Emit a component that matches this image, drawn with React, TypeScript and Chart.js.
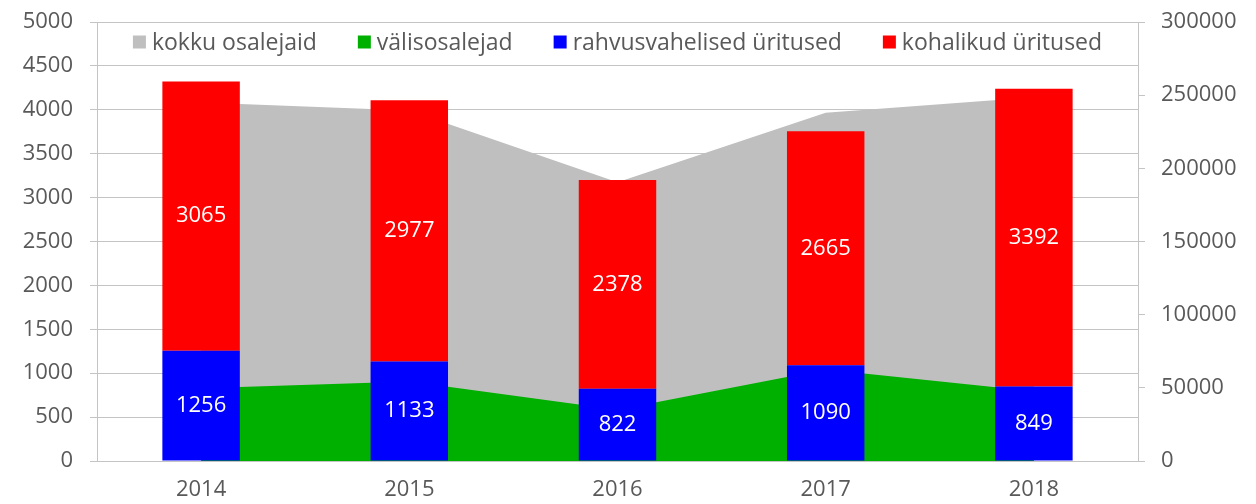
import React, { useEffect, useRef } from "react";
import { Chart, registerables } from "chart.js";

Chart.register(...registerables);

const years = ["2014", "2015", "2016", "2017", "2018"];
const rahvusvahelised = [1256, 1133, 822, 1090, 849];
const kohalikud = [3065, 2977, 2378, 2665, 3392];
const kokkuOsalejaid = [245000, 239500, 190500, 238000, 248500];
const valisosalejad = [49800, 54400, 35000, 62500, 47600];

const labels = {
  kokku: "kokku osalejaid",
  valis: "välisosalejad",
  rahvus: "rahvusvahelised üritused",
  kohalik: "kohalikud üritused",
};

const FONT = '"Open Sans", sans-serif';
const TEXT = "#595959";
const GRID = "#c4c4c4";

const legendPlugin = {
  id: "insideLegend",
  afterDraw(chart: any) {
    const ctx = chart.ctx;
    const { left, right } = chart.chartArea;
    ctx.save();
    ctx.font = `23px ${FONT}`;
    ctx.textBaseline = "middle";
    const items = chart.data.datasets.map((d: any) => ({
      label: d.label,
      color: d.backgroundColor,
    }));
    const box = 13;
    const gapBT = 6;
    const gap = 41;
    const widths = items.map((it: any) => box + gapBT + ctx.measureText(it.label).width);
    const total = widths.reduce((a: number, b: number) => a + b, 0) + gap * (items.length - 1);
    let x = (left + right) / 2 - total / 2;
    const y = 42;
    items.forEach((it: any, i: number) => {
      ctx.fillStyle = it.color;
      ctx.fillRect(x, y - box / 2, box, box);
      ctx.fillStyle = TEXT;
      ctx.textAlign = "left";
      ctx.fillText(it.label, x + box + gapBT, y + 1);
      x += widths[i] + gap;
    });
    ctx.restore();
  },
};

const valueLabelPlugin = {
  id: "valueLabels",
  afterDatasetsDraw(chart: any) {
    const ctx = chart.ctx;
    ctx.save();
    ctx.font = `22px ${FONT}`;
    ctx.fillStyle = "#ffffff";
    ctx.textAlign = "center";
    ctx.textBaseline = "middle";
    chart.data.datasets.forEach((ds: any, di: number) => {
      if (ds.type !== "bar") return;
      const meta = chart.getDatasetMeta(di);
      meta.data.forEach((el: any, i: number) => {
        const p = el.getCenterPoint();
        ctx.fillText(String(ds.data[i]), p.x, p.y);
      });
    });
    ctx.restore();
  },
};

const plain = (v: any) => String(v);

export default function App() {
  const ref = useRef<HTMLCanvasElement>(null);

  useEffect(() => {
    if (!ref.current) return;
    const chart = new Chart(ref.current, {
      type: "bar",
      data: {
        labels: years,
        datasets: [
          {
            type: "line",
            label: labels.kokku,
            data: kokkuOsalejaid,
            yAxisID: "y1",
            backgroundColor: "#bfbfbf",
            borderColor: "#bfbfbf",
            borderWidth: 0,
            pointRadius: 0,
            fill: "origin",
            tension: 0,
            order: 3,
          },
          {
            type: "line",
            label: labels.valis,
            data: valisosalejad,
            yAxisID: "y1",
            backgroundColor: "#00b000",
            borderColor: "#00b000",
            borderWidth: 0,
            pointRadius: 0,
            fill: "origin",
            tension: 0,
            order: 2,
          },
          {
            type: "bar",
            label: labels.rahvus,
            data: rahvusvahelised,
            yAxisID: "y",
            backgroundColor: "#0000ff",
            stack: "s",
            order: 1,
          },
          {
            type: "bar",
            label: labels.kohalik,
            data: kohalikud,
            yAxisID: "y",
            backgroundColor: "#ff0000",
            stack: "s",
            order: 1,
          },
        ] as any,
      },
      options: {
        responsive: false,
        animation: false,
        devicePixelRatio: 1,
        layout: { padding: { top: 22, left: 0, right: 0, bottom: 0 } },
        datasets: {
          bar: { categoryPercentage: 0.372, barPercentage: 1 },
        } as any,
        plugins: {
          legend: { display: false },
          tooltip: { enabled: false },
        },
        scales: {
          x: {
            stacked: true,
            offset: true,
            grid: { display: false, drawTicks: false },
            border: { display: true, color: GRID },
            ticks: { color: TEXT, font: { family: FONT, size: 22 }, padding: 16 },
            afterFit: (s: any) => {
              s.height = 43;
              s.paddingLeft = 0;
              s.paddingRight = 0;
            },
          },
          y: {
            position: "left",
            stacked: true,
            min: 0,
            max: 5000,
            ticks: {
              stepSize: 500,
              color: TEXT,
              font: { family: FONT, size: 22 },
              padding: 17,
              callback: plain,
            },
            grid: { color: GRID, tickLength: 7, tickColor: GRID },
            border: { color: GRID },
            afterFit: (s: any) => {
              s.width = 97;
              s.paddingTop = 0;
              s.paddingBottom = 0;
            },
          },
          y1: {
            position: "right",
            min: 0,
            max: 300000,
            ticks: {
              stepSize: 50000,
              color: TEXT,
              font: { family: FONT, size: 22 },
              padding: 16,
              callback: plain,
            },
            grid: { drawOnChartArea: false, tickLength: 7, color: GRID },
            border: { color: GRID },
            afterFit: (s: any) => {
              s.width = 118;
              s.paddingTop = 0;
              s.paddingBottom = 0;
            },
          },
        } as any,
      },
      plugins: [legendPlugin, valueLabelPlugin],
    });
    return () => chart.destroy();
  }, []);

  return (
    <div style={{ position: "absolute", left: 0, top: 0, width: 1256, height: 504 }}>
      <canvas ref={ref} width={1256} height={504} />
    </div>
  );
}
